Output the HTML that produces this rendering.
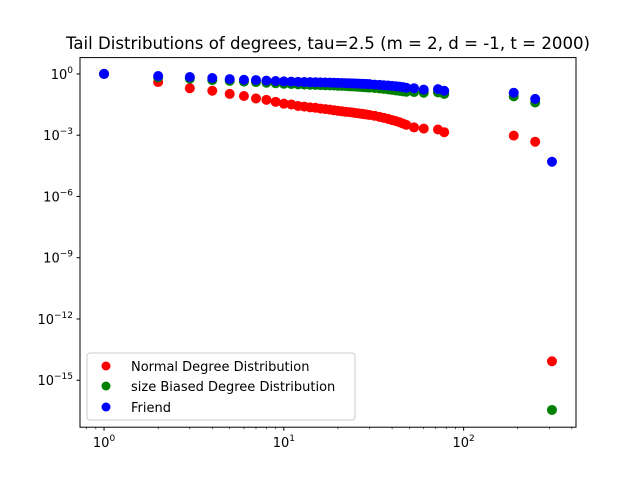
<!DOCTYPE html>
<html><head><meta charset="utf-8"><style>
body{margin:0;background:#fff}
svg{display:block;font-family:"DejaVu Sans","Liberation Sans",sans-serif}
</style></head><body>
<svg id="chart" width="640" height="480">
<rect width="640" height="480" fill="#fff"/>
<text x="328" y="49" font-size="16.6" text-anchor="middle">Tail Distributions of degrees, tau=2.5 (m = 2, d = -1, t = 2000)</text>
<g id="marks"></g>
<g id="axes"></g>
<g id="legend">
<rect x="87" y="353" width="268" height="67" rx="3" fill="#fff" fill-opacity="0.8" stroke="#ccc"/>
<circle cx="106" cy="366" r="4.5" fill="red"/>
<text x="131" y="371" font-size="13">Normal Degree Distribution</text>
<circle cx="106" cy="386" r="4.5" fill="green"/>
<text x="131" y="391" font-size="13">size Biased Degree Distribution</text>
<circle cx="106" cy="407" r="4.5" fill="blue"/>
<text x="131" y="412" font-size="13">Friend</text>
</g>
</svg>
<script>
const degrees=[1,2,3,4,5,6,7,8,9,10,11,12,13,14,15,16,17,18,19,20,21,22,23,24,25,26,27,28,29,30,32,34,36,38,40,42,44,46,48,53,60,72,78,190,250,310];
const normalVals=[1,0.4,0.2,0.15,0.105,0.083,0.063,0.054,0.043,0.035,0.032,0.027,0.025,0.023,0.022,0.02,0.019,0.018,0.0166,0.0158,0.0148,0.0141,0.0135,0.0129,0.0123,0.0117,0.0112,0.0107,0.0102,0.0098,0.0089,0.0079,0.0071,0.0063,0.0055,0.0049,0.0043,0.0037,0.0032,0.0024,0.0021,0.0019,0.0014,0.00095,0.00048,8.5e-15];
const sizeBiasedVals=[1,0.68,0.58,0.5,0.46,0.42,0.4,0.37,0.35,0.33,0.32,0.31,0.3,0.295,0.29,0.285,0.28,0.275,0.27,0.265,0.26,0.255,0.25,0.245,0.24,0.235,0.23,0.225,0.22,0.215,0.205,0.195,0.185,0.175,0.165,0.155,0.148,0.14,0.135,0.13,0.12,0.125,0.105,0.08,0.04,3.5e-17];
const friendVals=[1,0.79,0.71,0.63,0.56,0.52,0.5,0.47,0.45,0.43,0.42,0.41,0.4,0.395,0.39,0.385,0.38,0.375,0.37,0.365,0.36,0.355,0.35,0.345,0.34,0.335,0.33,0.325,0.32,0.315,0.3,0.29,0.28,0.27,0.26,0.25,0.24,0.225,0.21,0.2,0.17,0.18,0.15,0.12,0.06,5e-5];
const xTickLabels=["0","1","2"];
const yTickLabels=["0","-3","-6","-9","-12","-15"];
const L=80,R=576,T=57.6,B=427.2;
const xMin=Math.log10(0.735),xMax=2.625,yMax=0.80,yMin=-17.3;
function sx(v){return L+(Math.log10(v)-xMin)/(xMax-xMin)*(R-L);}
function sy(v){return T+(yMax-Math.log10(v))/(yMax-yMin)*(B-T);}
const NS="http://www.w3.org/2000/svg";
const marks=document.getElementById('marks'),axes=document.getElementById('axes');
function mk(tag,attrs,parent){const e=document.createElementNS(NS,tag);for(const k in attrs)e.setAttribute(k,attrs[k]);parent.appendChild(e);return e;}
[[normalVals,'red','normal'],[sizeBiasedVals,'green','size-biased'],[friendVals,'blue','friend']].forEach(([vals,col,nm])=>{
  vals.forEach((v,i)=>{
    const c=mk('circle',{cx:sx(degrees[i]),cy:sy(v),r:5,fill:col},marks);
    
    
  });
});
const frame=mk('rect',{x:L,y:T,width:R-L,height:B-T,fill:'none',stroke:'#000','stroke-width':1},axes);


xTickLabels.forEach(e=>{
  const x=sx(Math.pow(10,+e));
  mk('line',{x1:x,x2:x,y1:B,y2:B+3.5,stroke:'#000'},axes);
  const t=mk('text',{x:x,y:B+20,'font-size':13,'text-anchor':'middle'},axes);
  
  
  t.textContent='10';
  const s=mk('tspan',{dy:-6,'font-size':9},t);s.textContent=e;
  for(let m=2;m<10;m++){const v=m*Math.pow(10,+e);if(Math.log10(v)>xMax)break;const xm=sx(v);mk('line',{x1:xm,x2:xm,y1:B,y2:B+2,stroke:'#000','stroke-width':0.6},axes);}
});
[2,3,4,5,6,7,8,9].forEach(m=>{const v=m/10;if(Math.log10(v)>=xMin){const xm=sx(v);mk('line',{x1:xm,x2:xm,y1:B,y2:B+2,stroke:'#000','stroke-width':0.6},axes);}});
yTickLabels.forEach(e=>{
  const y=sy(Math.pow(10,+e));
  mk('line',{x1:L-3.5,x2:L,y1:y,y2:y,stroke:'#000'},axes);
  const t=mk('text',{x:L-7,y:y+5,'font-size':13,'text-anchor':'end'},axes);
  
  
  const a=mk('tspan',{},t);a.textContent='10';
  const s=mk('tspan',{dy:-6,'font-size':9},t);s.textContent=e.replace('-','\u2212');
});
</script>
</body></html>
